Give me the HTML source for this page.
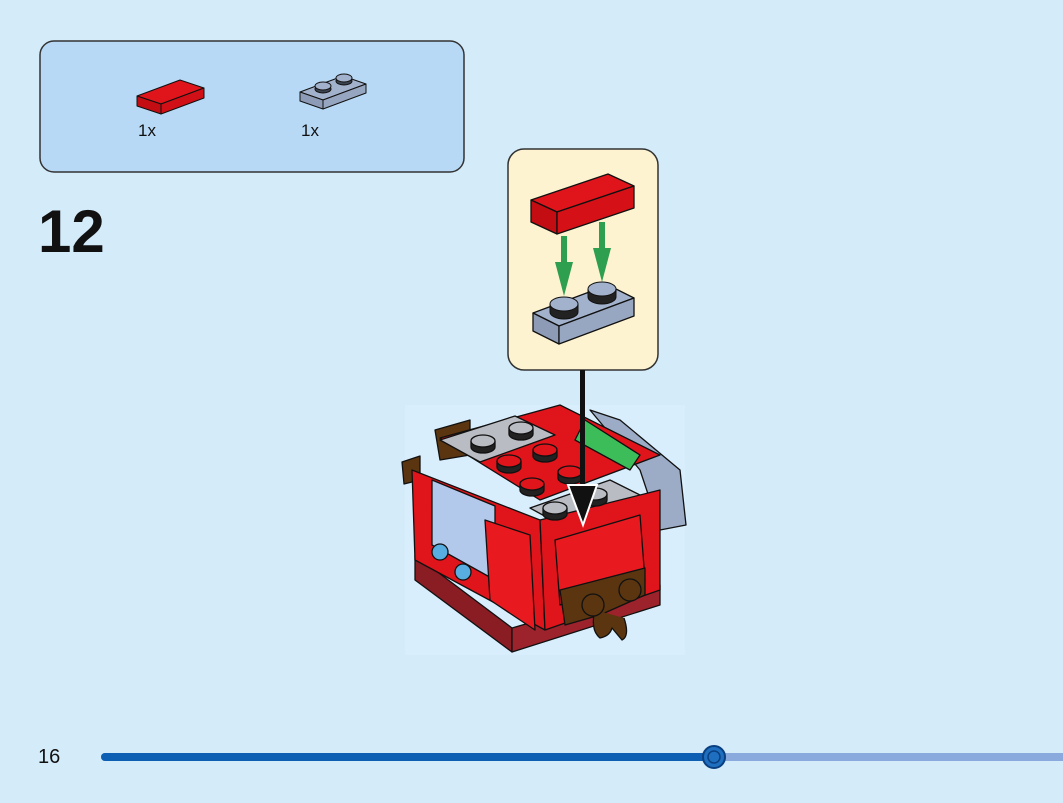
<!DOCTYPE html>
<html><head><meta charset="utf-8"><style>
html,body{margin:0;padding:0;background:#d4ebfa;}
body{width:1063px;height:803px;overflow:hidden;position:relative;font-family:"Liberation Sans",sans-serif;}
</style></head><body>
<svg width="1063" height="803" viewBox="0 0 1063 803" xmlns="http://www.w3.org/2000/svg" style="position:absolute;left:0;top:0">
<g stroke="#111" stroke-linejoin="round">
<!-- parts box -->
<rect x="40" y="41" width="424" height="131" rx="14" fill="#b7d9f5" stroke="#333" stroke-width="1.5"/>
<!-- red tile -->
<polygon points="137,96 180,80 204,88 161,104" fill="#e0141b" stroke-width="1"/>
<polygon points="137,96 161,104 161,114 137,106" fill="#c40d12" stroke-width="1"/>
<polygon points="161,104 204,88 204,98 161,114" fill="#d01016" stroke-width="1"/>
<!-- grey plate -->
<polygon points="300,92 343,76 366,84 323,100" fill="#a3b2cc" stroke-width="1"/>
<polygon points="300,92 323,100 323,109 300,101" fill="#8d9bb6" stroke-width="1"/>
<polygon points="323,100 366,84 366,93 323,109" fill="#97a6c0" stroke-width="1"/>
<ellipse cx="323" cy="89" rx="8" ry="4" fill="#3b4350"/><ellipse cx="323" cy="86" rx="8" ry="4" fill="#a3b2cc"/>
<ellipse cx="344" cy="81" rx="8" ry="4" fill="#3b4350"/><ellipse cx="344" cy="78" rx="8" ry="4" fill="#a3b2cc"/>
<!-- callout -->
<rect x="508" y="149" width="150" height="221" rx="16" fill="#fdf3d1" stroke="#333" stroke-width="1.5"/>
<polygon points="531,200 608,174 634,186 557,212" fill="#e0141b" stroke-width="1.3"/>
<polygon points="531,200 557,212 557,234 531,222" fill="#c40d12" stroke-width="1.3"/>
<polygon points="557,212 634,186 634,208 557,234" fill="#d51016" stroke-width="1.3"/>
<polygon points="533,313 608,285 634,298 559,326" fill="#a3b2cc" stroke-width="1.3"/>
<polygon points="533,313 559,326 559,344 533,331" fill="#8d9bb6" stroke-width="1.3"/>
<polygon points="559,326 634,298 634,316 559,344" fill="#98a7c1" stroke-width="1.3"/>
<path d="M550,304 v8 a14,7 0 0 0 28,0 v-8" fill="#222"/><ellipse cx="564" cy="304" rx="14" ry="7" fill="#a3b2cc"/>
<path d="M588,289 v8 a14,7 0 0 0 28,0 v-8" fill="#222"/><ellipse cx="602" cy="289" rx="14" ry="7" fill="#a3b2cc"/>
</g>
<g fill="#2e9e4f" stroke="none">
<rect x="561" y="236" width="6" height="30"/><polygon points="555,262 573,262 564,296"/>
<rect x="599" y="222" width="6" height="30"/><polygon points="593,248 611,248 602,282"/>
</g>
<!-- model background -->
<rect x="405" y="405" width="280" height="250" fill="#d9eefc"/>
<g stroke="#111" stroke-width="1.3" stroke-linejoin="round">
<!-- back grey curved part -->
<polygon points="590,410 620,420 680,470 686,525 660,530 640,470" fill="#9dacc6"/>
<!-- base dark red -->
<polygon points="415,555 512,628 512,652 415,580" fill="#8a1c24"/>
<polygon points="512,628 660,585 660,605 512,652" fill="#9c222b"/>
<!-- brown back -->
<polygon points="435,430 470,420 470,455 440,460" fill="#5a3510"/>
<polygon points="402,462 420,456 420,480 404,484" fill="#5a3510"/>
<!-- top surface -->
<polygon points="440,438 560,405 660,455 540,500" fill="#e0141b"/>
<polygon points="440,440 515,416 555,435 480,462" fill="#b9bcc3"/>
<polygon points="530,508 610,480 650,500 570,530" fill="#b9bcc3"/>
<polygon points="585,420 640,455 630,470 575,440" fill="#3cbd5a"/>
<!-- left face -->
<polygon points="412,470 540,520 545,630 415,560" fill="#e0141b"/>
<polygon points="432,480 495,506 495,580 432,545" fill="#b3c9eb"/>
<polygon points="485,520 530,535 535,630 490,600" fill="#e81a20"/>
<!-- front right face -->
<polygon points="540,520 660,490 660,590 545,630" fill="#e0141b"/>
<polygon points="555,540 640,515 645,580 560,605" fill="#e81a20"/>
<polygon points="560,590 645,568 645,595 600,615 565,625" fill="#5a3510"/>
<path d="M595,610 q-5,20 5,28 q10,-2 12,-10 l10,12 q8,-4 2,-22" fill="#5a3510"/>
</g>
<g stroke="#111" stroke-width="1.3">
<!-- studs -->
<g fill="#b9bcc3">
<path d="M471,441 v6 a12,6 0 0 0 24,0 v-6" fill="#222"/><ellipse cx="483" cy="441" rx="12" ry="6"/>
<path d="M509,428 v6 a12,6 0 0 0 24,0 v-6" fill="#222"/><ellipse cx="521" cy="428" rx="12" ry="6"/>
<path d="M543,508 v6 a12,6 0 0 0 24,0 v-6" fill="#222"/><ellipse cx="555" cy="508" rx="12" ry="6"/>
<path d="M583,494 v6 a12,6 0 0 0 24,0 v-6" fill="#222"/><ellipse cx="595" cy="494" rx="12" ry="6"/>
</g>
<g fill="#e0141b">
<path d="M497,461 v6 a12,6 0 0 0 24,0 v-6" fill="#222"/><ellipse cx="509" cy="461" rx="12" ry="6"/>
<path d="M533,450 v6 a12,6 0 0 0 24,0 v-6" fill="#222"/><ellipse cx="545" cy="450" rx="12" ry="6"/>
<path d="M520,484 v6 a12,6 0 0 0 24,0 v-6" fill="#222"/><ellipse cx="532" cy="484" rx="12" ry="6"/>
<path d="M558,472 v6 a12,6 0 0 0 24,0 v-6" fill="#222"/><ellipse cx="570" cy="472" rx="12" ry="6"/>
</g>
<g fill="#58aee0"><circle cx="440" cy="552" r="8"/><circle cx="463" cy="572" r="8"/></g>
<g fill="#5a3510"><circle cx="593" cy="605" r="11"/><circle cx="630" cy="590" r="11"/></g>
</g>
<!-- arrow -->
<rect x="580" y="370" width="5" height="120" fill="#111"/>
<polygon points="568,485 597,485 583,525" fill="#111" stroke="#fff" stroke-width="2"/>
<!-- progress bar -->
<line x1="105" y1="757" x2="1063" y2="757" stroke="#8aa9dc" stroke-width="8" stroke-linecap="round"/>
<line x1="105" y1="757" x2="714" y2="757" stroke="#0d5fb3" stroke-width="8" stroke-linecap="round"/>
<circle cx="714" cy="757" r="11" fill="#1e6fc0" stroke="#0a3f80" stroke-width="2"/>
<circle cx="714" cy="757" r="6" fill="#1e6fc0" stroke="#0a3f80" stroke-width="1.5"/>
<text x="138" y="136" font-size="17" fill="#111" font-family="Liberation Sans">1x</text>
<text x="301" y="136" font-size="17" fill="#111" font-family="Liberation Sans">1x</text>
<text x="38" y="252" font-size="60" font-weight="bold" fill="#111" font-family="Liberation Sans">12</text>
<text x="38" y="763" font-size="20" fill="#111" font-family="Liberation Sans">16</text>
</svg>
</body></html>
